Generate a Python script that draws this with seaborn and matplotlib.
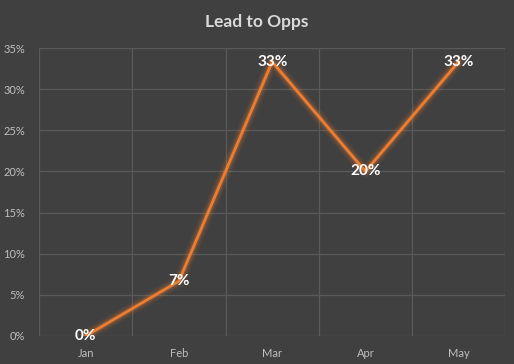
import matplotlib
matplotlib.use("Agg")
import matplotlib.pyplot as plt
import seaborn as sns
import pandas as pd
from matplotlib.ticker import FixedLocator, PercentFormatter

months = ["Jan", "Feb", "Mar", "Apr", "May"]
rate = [0.0, 6.67, 33.33, 20.0, 33.33]
labels = ["0%", "7%", "33%", "20%", "33%"]

BG = "#404040"
GRID = "#5a5a5a"
ORANGE = "#ED7D31"

sns.set_theme(style="dark")
plt.rcParams['font.family'] = ['Lato', 'DejaVu Sans']

df = pd.DataFrame({"month": months, "rate": rate})
df["pos"] = range(len(months))

fig = plt.figure(figsize=(5.14, 3.64), dpi=100, facecolor=BG)
ax = fig.add_axes([0.076, 0.077, 0.907, 0.791])
ax.set_facecolor(BG)

# glow under the line
for lw, a in [(9, 0.06), (7, 0.08), (5, 0.12), (3.5, 0.18)]:
    ax.plot(df["pos"], df["rate"], color=ORANGE, lw=lw, alpha=a,
            solid_capstyle="round", solid_joinstyle="round", zorder=2)
sns.lineplot(data=df, x="pos", y="rate", color=ORANGE, linewidth=2,
             ax=ax, zorder=3)

for x, y, t in zip(df["pos"], df["rate"], labels):
    ax.text(x, y, t, color="white", fontsize=11, fontweight="bold",
            ha="center", va="center", zorder=4)

ax.set_xlim(-0.5, len(months) - 0.5)
ax.set_ylim(0, 35)
ax.set_xticks(df["pos"])
ax.set_xticklabels(months)
ax.xaxis.set_minor_locator(FixedLocator([i - 0.5 for i in range(len(months) + 1)]))
ax.set_yticks(range(0, 36, 5))
ax.yaxis.set_major_formatter(PercentFormatter(decimals=0))
ax.tick_params(axis="both", which="both", length=0, colors="#bfbfbf",
               labelsize=8)
ax.tick_params(axis="y", pad=10)
ax.tick_params(axis="x", pad=9)
ax.grid(False)
ax.grid(axis="y", which="major", color=GRID, lw=0.9)
ax.grid(axis="x", which="minor", color=GRID, lw=0.9)
for s in ax.spines.values():
    s.set_visible(False)
ax.set_xlabel("")
ax.set_ylabel("")

fig.text(0.5, 0.94, "Lead to Opps", color="#d9d9d9", fontsize=12.5,
         fontweight="bold", ha="center", va="center")

fig.savefig("out.png", dpi=100, facecolor=BG)
